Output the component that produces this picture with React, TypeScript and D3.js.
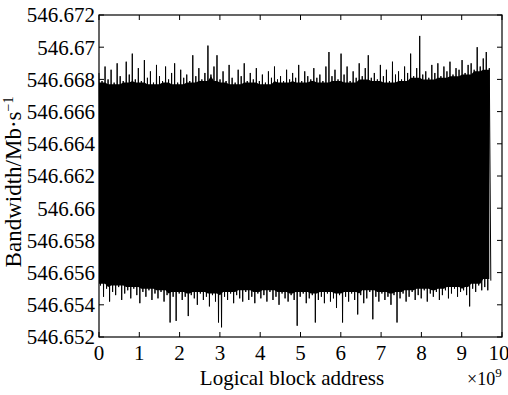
import * as d3 from 'd3'

// bandwidth samples, stored as offsets from 546.66 in units of 1e-4 Mb/s
const base = 546.66
const highs = [
  84, 79, 88, 80, 86, 78, 90, 82, 79, 91,
  83, 96, 80, 87, 79, 92, 81, 85, 78, 89,
  82, 79, 88, 80, 84, 90, 78, 86, 81, 83,
  79, 95, 82, 87, 80, 84, 101, 83, 88, 95,
  80, 85, 79, 89, 81, 78, 86, 82, 90, 79,
  84, 80, 87, 79, 83, 78, 85, 81, 88, 80,
  82, 79, 86, 80, 84, 81, 89, 79, 85, 82,
  80, 87, 81, 83, 79, 88, 97, 82, 86, 80,
  96, 83, 88, 79, 85, 81, 90, 82, 87, 95,
  81, 84, 80, 89, 82, 86, 79, 91, 83, 85,
  80, 88, 84, 96, 82, 87, 107, 83, 85, 81,
  89, 84, 90, 82, 88, 85, 91, 83, 87, 86,
  92, 84, 89, 90, 86, 100, 88, 93, 97, 87,
]
const lows = [
  -48, -55, -50, -58, -52, -54, -49, -57, -53, -51,
  -56, -50, -54, -59, -52, -55, -51, -57, -53, -56,
  -52, -58, -54, -71, -55, -70, -53, -57, -55, -67,
  -54, -56, -60, -53, -57, -55, -61, -54, -58, -71,
  -74, -55, -57, -53, -59, -54, -56, -58, -52, -57,
  -55, -59, -53, -56, -54, -58, -52, -57, -55, -60,
  -53, -56, -58, -54, -57, -73, -55, -53, -59, -56,
  -54, -71, -57, -55, -59, -53, -58, -56, -62, -54,
  -71, -55, -58, -53, -57, -66, -54, -59, -56, -52,
  -69, -55, -58, -53, -57, -55, -60, -54, -71, -56,
  -53, -58, -55, -52, -57, -54, -56, -51, -58, -53,
  -55, -52, -57, -54, -51, -56, -53, -50, -55, -52,
  -51, -54, -61, -50, -52, -48, -51, -49, -51, -45,
]
const lastAddr = 9.76 // x10^9
const xTicks = [0, 1, 2, 3, 4, 5, 6, 7, 8, 9, 10]
const yTicks = [546.652, 546.654, 546.656, 546.658, 546.66, 546.662, 546.664, 546.666, 546.668, 546.67, 546.672]

const W = 508, H = 395
const pad = { l: 99, r: 6, t: 15, b: 58 }
const font = '"Liberation Serif", "Times New Roman", serif'

export default function App() {
  const x = d3.scaleLinear().domain([0, 10]).range([pad.l, W - pad.r])
  const y = d3.scaleLinear().domain([546.652, 546.672]).range([H - pad.b, pad.t])

  const n = highs.length
  const val = (v: number) => base + v * 1e-4
  const pts: [number, number][] = []
  highs.forEach((h, i) => {
    pts.push([(i / n) * lastAddr, val(h)])
    pts.push([((i + 0.5) / n) * lastAddr, val(lows[i])])
  })
  const line = d3.line<[number, number]>().x(d => x(d[0])).y(d => y(d[1]))

  // dense core where the trace overlaps itself: inner envelope of nearby samples
  const core = highs.map((_, i) => {
    const win = d3.range(Math.max(i - 2, 0), Math.min(i + 3, n))
    return {
      t: (i / n) * lastAddr,
      top: val((d3.min(win, j => highs[j]) as number) - 1),
      bot: val((d3.max(win, j => lows[j]) as number) + 1),
    }
  })
  const area = d3.area<{ t: number; top: number; bot: number }>()
    .x(d => x(d.t)).y0(d => y(d.bot)).y1(d => y(d.top))

  const x0 = x(0), x1 = x(10), y0 = y(546.652), y1 = y(546.672)
  const tk = 5

  return (
    <svg width={W} height={H} style={{ position: 'absolute', left: 0, top: 0, background: '#fff' }} fontFamily={font}>
      <path d={area(core) || ''} fill="#000" />
      <path d={line(pts) || ''} fill="none" stroke="#000" strokeWidth={1} />
      <rect x={x0} y={y1} width={x1 - x0} height={y0 - y1} fill="none" stroke="#000" strokeWidth={1.2} />
      {xTicks.map(v => (
        <g key={'x' + v}>
          <line x1={x(v)} x2={x(v)} y1={y0} y2={y0 - tk} stroke="#000" />
          <line x1={x(v)} x2={x(v)} y1={y1} y2={y1 + tk} stroke="#000" />
          <text x={v === 10 ? x(v) - 3 : x(v)} y={y0 + 23} textAnchor="middle" fontSize={21}>{v}</text>
        </g>
      ))}
      {yTicks.map(v => (
        <g key={'y' + v}>
          <line x1={x0} x2={x0 + tk} y1={y(v)} y2={y(v)} stroke="#000" />
          <line x1={x1} x2={x1 - tk} y1={y(v)} y2={y(v)} stroke="#000" />
          <text x={x0 - 4} y={y(v)} dy="0.35em" textAnchor="end" fontSize={21}>{String(+v.toFixed(3))}</text>
        </g>
      ))}
      <text x={292} y={385} textAnchor="middle" fontSize={21}>Logical block address</text>
      <text x={467} y={385} fontSize={18}>×10<tspan dy={-8} fontSize={13}>9</tspan></text>
      <text transform={`translate(21,182) rotate(-90)`} textAnchor="middle" fontSize={23}>
        Bandwidth/Mb·s<tspan dy={-8} fontSize={14}>−1</tspan>
      </text>
    </svg>
  )
}
